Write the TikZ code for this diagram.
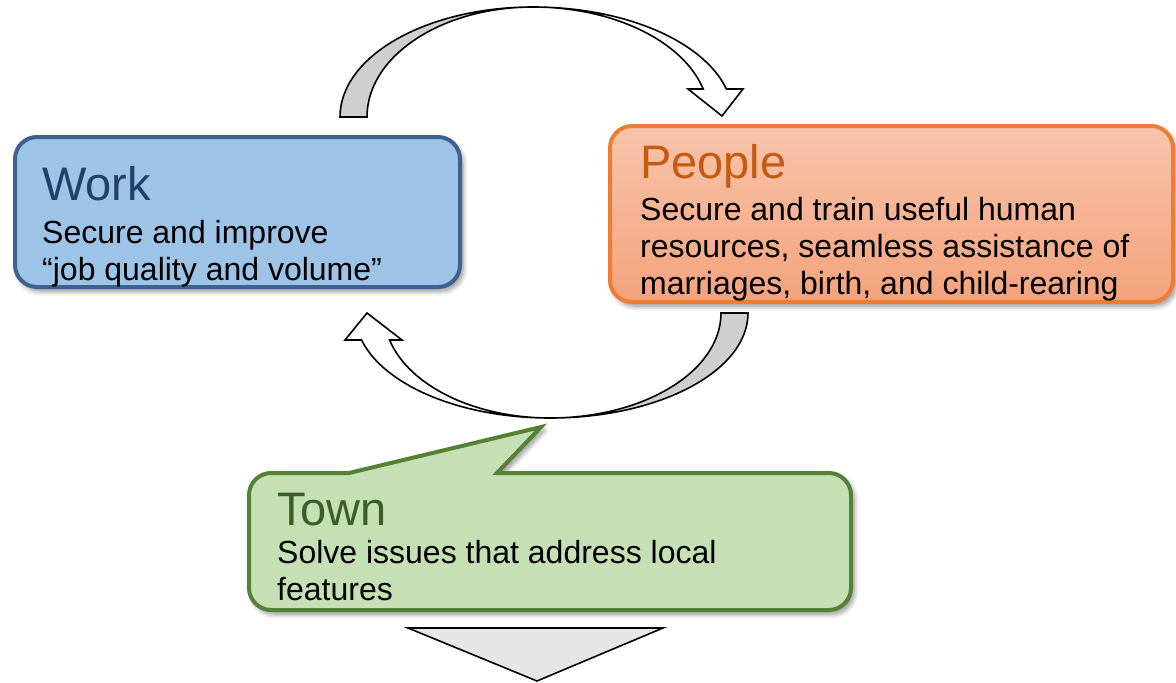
\documentclass[tikz,border=0pt]{standalone}
\usepackage{fontspec}
\setmainfont{Liberation Sans}
\usetikzlibrary{shadows,shadows.blur}
\definecolor{workfill}{HTML}{9DC3E6}
\definecolor{workdraw}{HTML}{3D6290}
\definecolor{worktitle}{HTML}{223F6B}
\definecolor{peopletop}{HTML}{F8C4AB}
\definecolor{peoplebot}{HTML}{F4A37C}
\definecolor{peopledraw}{HTML}{ED7D31}
\definecolor{peopletitle}{HTML}{C55A11}
\definecolor{townfill}{HTML}{C5E0B4}
\definecolor{towndraw}{HTML}{548235}
\definecolor{towntitle}{HTML}{3B5E27}
\definecolor{arrowgray}{HTML}{CFCFCF}
\definecolor{trigray}{HTML}{E7E6E6}
\tikzset{
  boxshadow/.style={blur shadow={shadow xshift=3pt, shadow yshift=-4pt, shadow blur steps=8, shadow blur radius=5pt, shadow opacity=45}},
  panel/.style={rectangle, rounded corners=22pt, line width=4pt, boxshadow},
  titletext/.style={anchor=base west, inner sep=0pt, font=\fontsize{47}{50}\selectfont},
  bodytext/.style={anchor=base west, inner sep=0pt, font=\fontsize{32}{37}\selectfont, text=black},
  blockarrow/.style={draw=black, line width=1.6pt, line join=miter},
}
\begin{document}
\begin{tikzpicture}[x=1pt,y=-1pt]
\useasboundingbox (0,0) rectangle (1176,683);

% ---- curved arrow on top (Work -> People)
\path[blockarrow, fill=arrowgray] (340,117) arc[start angle=180, end angle=270, x radius=193, y radius=110]
  arc[start angle=270, end angle=180, x radius=166, y radius=110] -- cycle;
\path[blockarrow, fill=white] (533,7) arc[start angle=270, end angle=345.25, x radius=200, y radius=110]
  -- (743,89) -- (722,116) -- (688,89) -- (703.2,89)
  arc[start angle=345.25, end angle=270, x radius=176, y radius=110] -- cycle;

% ---- curved arrow at bottom (People -> Work)
\path[blockarrow, fill=arrowgray] (748,313) arc[start angle=0, end angle=90, x radius=198, y radius=105]
  arc[start angle=90, end angle=0, x radius=171, y radius=105] -- cycle;
\path[blockarrow, fill=white] (550,418) arc[start angle=90, end angle=165.1, x radius=195, y radius=105]
  -- (345,340) -- (367,313) -- (402,340) -- (389.6,340)
  arc[start angle=165.1, end angle=90, x radius=166, y radius=105] -- cycle;

% ---- Work box
\node[panel, fill=workfill, draw=workdraw, minimum width=445pt, minimum height=150pt] (work) at (237.5,212) {};
\node[titletext, text=worktitle] (worktitle) at (42,200) {Work};
\node[bodytext] (work1) at (42,243) {Secure and improve};
\node[bodytext] (work2) at (42,280) {“job quality and volume”};

% ---- People box
\node[panel, top color=peopletop, bottom color=peoplebot, draw=peopledraw, minimum width=563pt, minimum height=176pt] (people) at (891.5,214) {};
\node[titletext, text=peopletitle] (peopletitle) at (640,178) {People};
\node[bodytext] (people1) at (640,220) {Secure and train useful human};
\node[bodytext] (people2) at (640,257) {resources, seamless assistance of};
\node[bodytext] (people3) at (640,294) {marriages, birth, and child-rearing};

% ---- Town callout
\path[fill=townfill, draw=towndraw, line width=4pt, line join=miter, boxshadow]
  (349,473) -- (541,427) -- (497,473) -- (829,473)
  .. controls (841,473) and (851,483) .. (851,495) -- (851,588)
  .. controls (851,600) and (841,610) .. (829,610) -- (271,610)
  .. controls (259,610) and (249,600) .. (249,588) -- (249,495)
  .. controls (249,483) and (259,473) .. (271,473) -- cycle;
\node[titletext, text=towntitle] (towntitle) at (277,525) {Town};
\node[bodytext] (town1) at (277,563) {Solve issues that address local};
\node[bodytext] (town2) at (277,600) {features};

% ---- down triangle
\path[blockarrow, fill=trigray] (408,628) -- (663,628) -- (537,681) -- cycle;
\end{tikzpicture}
\end{document}
